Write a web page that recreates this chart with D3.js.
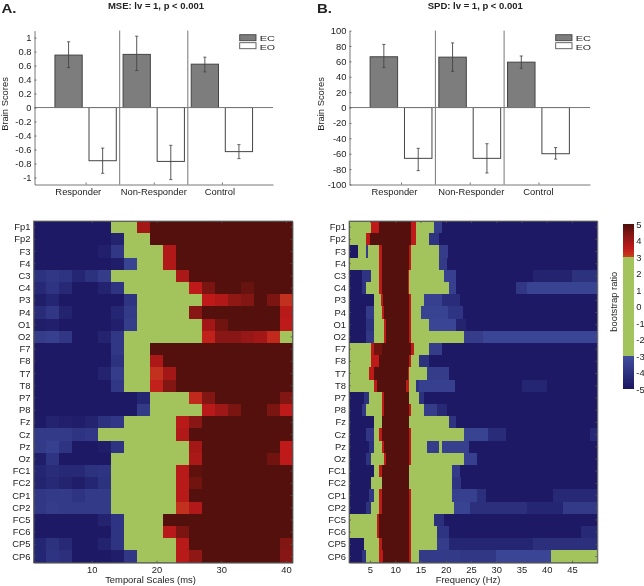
<!DOCTYPE html>
<html><head><meta charset="utf-8">
<script src="https://cdn.jsdelivr.net/npm/d3@7/dist/d3.min.js"></script>
<style>
html,body{margin:0;padding:0;background:#fff}
svg{display:block;filter:blur(0.45px)}
text{font-family:"Liberation Sans",Arial,sans-serif;fill:#222}
</style></head><body><svg id="c" width="644" height="586"></svg>
<script>
// ---------- data ----------
const groups = ["Responder","Non-Responder","Control"];
const mseEC = [0.75,0.76,0.62];
const mseEO = [-0.76,-0.77,-0.63];
const mseECerr = [[0.57,0.94],[0.53,1.02],[0.51,0.72]];
const mseEOerr = [[-0.94,-0.58],[-1.03,-0.54],[-0.73,-0.53]];
const spdEC = [66,65.5,59];
const spdEO = [-66,-66,-60];
const spdECerr = [[52,82],[47,84],[51,67]];
const spdEOerr = [[-82,-53],[-85,-47],[-67,-52]];
const mseYTicks = [1,0.8,0.6,0.4,0.2,0,-0.2,-0.4,-0.6,-0.8,-1];
const spdYTicks = [100,80,60,40,20,0,-20,-40,-60,-80,-100];
const channels = ["Fp1","Fp2","F3","F4","C3","C4","P3","P4","O1","O2","F7","F8","T7","T8","P7","P8","Fz","Cz","Pz","Oz","FC1","FC2","CP1","CP2","FC5","FC6","CP5","CP6"];
const D=-4.85, H=4.9, G=0;
// MSE: 20 columns per channel, each 2 scale units wide
const mseValues = [
[D,D,D,D,D,D,G,G,3.9,H,H,H,H,H,H,H,H,H,H,H],
[D,D,D,D,D,D,-4.5,G,G,H,H,H,H,H,H,H,H,H,H,H],
[D,D,D,D,D,-4.6,-3.8,G,G,G,3.7,H,H,H,H,H,H,H,H,H],
[D,D,D,D,D,D,-4.7,-3.4,G,G,3.7,H,H,H,H,H,H,H,H,H],
[-4,-3.8,-3.9,-4.4,-4,-3.6,G,G,G,G,G,3.8,H,H,H,H,H,H,H,H],
[-4.3,-3.9,-4.3,D,D,-4.5,-3.9,G,G,G,G,G,3.5,4.5,H,H,4.7,H,H,H],
[-4.7,-4.4,D,D,D,D,D,-3.9,G,G,G,G,G,3.5,3.7,4.2,4.4,H,4.5,3.2],
[-4.2,-3.8,-4.5,D,D,D,-4.4,-3.7,G,G,G,G,4.3,H,H,H,H,H,H,3.6],
[-4.7,-4.6,D,D,D,D,-4.6,-3.6,G,G,G,G,G,3.9,4.6,H,H,H,H,3.5],
[-3.6,-3.5,-3.8,D,D,-4.5,-3.8,G,G,G,G,G,G,3.4,4.3,4.3,4.1,3.9,3.3,G],
[D,D,D,D,D,D,-3.8,G,G,H,H,H,H,H,H,H,H,H,H,H],
[D,D,D,D,D,D,-4,G,G,3.8,H,H,H,H,H,H,H,H,H,H],
[D,D,D,D,D,-4.5,-3.6,G,G,3.2,3.9,H,H,H,H,H,H,H,H,H],
[D,D,D,D,D,D,-3.8,G,G,3.4,4.4,H,H,H,H,H,H,H,H,H],
[D,D,D,D,D,D,D,D,-4.4,G,G,G,3.3,4.4,H,H,H,H,H,4.4],
[D,D,D,D,D,D,D,D,-3.7,G,G,G,G,3.6,4,4.5,H,H,4.5,3.5],
[-4.8,-4.5,-4.6,-4.7,-4.5,-4,-3.8,G,G,G,G,3.6,4.3,H,H,H,H,H,H,H],
[-3.7,-3.7,-3.7,-3.9,-3.8,G,G,G,G,G,G,3.7,H,H,H,H,H,H,H,H],
[-3.7,-3.5,-3.9,D,D,-4.7,-3.9,G,G,G,G,G,3.9,H,H,H,H,H,H,3.5],
[-4.7,-3.9,D,D,D,D,G,G,G,G,G,G,3.8,H,H,H,H,H,4.6,3.5],
[-4.4,-4.2,-4.3,-4.3,-4,-3.9,G,G,G,G,G,3.6,4.8,H,H,H,H,H,H,H],
[-4.5,-4.3,-4.5,-4.7,-4.4,-4,G,G,G,G,G,3.6,4.6,H,H,H,H,H,H,H],
[-3.8,-3.7,-3.7,-3.9,-3.7,-3.7,G,G,G,G,G,3.6,H,H,H,H,H,H,H,H],
[-3.8,-3.6,-3.7,-3.7,-3.7,-3.7,G,G,G,G,G,3.2,3.7,H,H,H,H,H,H,H],
[D,D,D,D,D,-4.5,-3.9,G,G,G,H,H,H,H,H,H,H,H,H,H],
[D,D,D,D,D,D,-3.9,G,G,G,3.6,4.5,H,H,H,H,H,H,H,H],
[-4.4,-4,-4.3,D,D,-4.5,-3.9,G,G,G,G,3.6,H,H,H,H,H,H,H,4.4],
[-4.4,-3.9,-4.1,D,D,D,-4.7,-3.8,G,G,G,3.6,4.2,H,H,H,H,H,H,4.3]
];
const R=3.5;
// SPD: per channel, runs of [bootstrap ratio, run end in Hz]
const spdRuns = [
[[G,5.3],[R,6.8],[H,13.2],[R,14.2],[G,17.7],[-3.6,19.2],[D,50]],
[[G,4.2],[R,5.1],[H,13.2],[R,14.2],[G,16.7],[-3.9,18.7],[D,50]],
[[D,2.7],[G,4.2],[-3.6,4.7],[G,6.8],[R,7.3],[H,12.8],[R,13.2],[G,18.7],[-3.6,20.4],[D,50]],
[[G,6.8],[R,7.3],[H,12.8],[R,13.2],[G,18.7],[-3.7,20.2],[D,50]],
[[D,3.4],[-3.9,5.2],[G,6.8],[R,7.3],[H,12.6],[R,12.8],[G,19.7],[-3.5,22.1],[D,37.3],[-4.5,45],[-4,50]],
[[D,3.4],[-4,4.2],[G,6.8],[R,7.3],[H,12.6],[R,12.8],[G,20.7],[-3.5,22.1],[D,34],[-3.8,36],[-3.4,50]],
[[D,5.7],[G,7.2],[R,7.6],[H,12.8],[R,13.2],[G,15.7],[-3.5,19.2],[-4.2,22.8],[D,50]],
[[D,4.3],[-3.7,5.7],[G,7.3],[R,7.8],[H,12.8],[R,13.2],[G,15.2],[-3.4,20.5],[-3.9,23.4],[D,50]],
[[D,4.3],[-4,5.7],[G,7.8],[R,8.2],[H,12.8],[R,13.2],[G,16.7],[-3.3,22.1],[-4.5,24],[D,50]],
[[D,4.2],[-3.8,5.8],[G,7.8],[R,8.2],[H,12.8],[R,13.2],[G,23.6],[-3.6,27.4],[-3.3,50]],
[[G,5.3],[R,5.8],[4.6,7.3],[H,13.2],[R,13.7],[G,16.7],[-3.6,19.2],[D,50]],
[[G,5.3],[R,6.8],[H,12.8],[R,13.2],[G,14.7],[-4,16.7],[D,50]],
[[G,4.8],[R,5.8],[H,12.6],[R,12.8],[G,16.2],[-3.6,20.7],[D,50]],
[[G,5.8],[R,6.3],[H,12.2],[R,12.8],[G,14.2],[-3.9,14.8],[-3.5,21.8],[D,35],[-4.4,40],[D,50]],
[[D,3.8],[-4,4.8],[G,7.3],[R,7.8],[H,12.8],[G,14.8],[-4,15.7],[D,50]],
[[D,3.4],[-3.8,4.2],[G,7.3],[R,7.8],[H,12.8],[R,13.2],[G,15.7],[-3.6,18.2],[-4.3,20.2],[D,50]],
[[D,5.7],[G,7.3],[H,12.8],[G,20.7],[-3.9,22.1],[D,50]],
[[D,4.3],[-3.8,5.7],[G,6.8],[R,7.3],[H,12.8],[R,13.2],[G,23.6],[-3.4,28.4],[-4.2,32],[D,48.5],[-4.3,50]],
[[D,4.9],[-4,5.7],[G,7.3],[R,7.8],[H,12.8],[R,13.2],[G,16.2],[-3.6,18.7],[G,19.2],[-3.5,24.6],[D,50]],
[[D,4.3],[-3.9,5.2],[G,7.8],[R,8.2],[H,12.8],[R,13.2],[G,23.6],[-3.5,26.1],[D,50]],
[[D,5.7],[G,6.8],[R,7.3],[H,12.8],[G,21.3],[-3.7,22.8],[D,50]],
[[D,5.3],[G,7.3],[H,12.8],[G,21.3],[-3.9,23],[D,50]],
[[D,4.8],[-3.8,5.7],[G,6.8],[R,7.3],[H,12.8],[R,13.2],[G,21.3],[-3.5,26.1],[-4.1,28],[D,41.2],[-4.3,50]],
[[D,4.3],[-4,5.2],[G,6.8],[R,7.3],[H,12.8],[R,13.2],[G,21.7],[-3.4,24.8],[-4.1,36],[-4.4,43.2],[-3.7,50]],
[[G,6.3],[R,6.8],[H,12.8],[R,13.2],[G,17.7],[-4.1,19.6],[D,50]],
[[G,6.3],[R,6.8],[H,12.8],[R,13.2],[G,18.2],[-3.9,20.7],[D,46.8],[-4.3,50]],
[[D,3.8],[G,6.8],[R,7.3],[H,12.8],[R,13.2],[G,18.2],[-3.6,20.7],[-4.4,37.3],[-4.1,50]],
[[D,3.4],[-3.9,4.2],[G,6.8],[R,7.6],[H,12.8],[R,13.2],[G,14.7],[-3.7,22.8],[-3.8,30],[-3.3,40.9],[G,50]]
];
const mseXTicks = [10,20,30,40];
const spdXTicks = [5,10,15,20,25,30,35,40,45];
const barTicks = [-5,-4,-3,-2,-1,0,1,2,3,4,5];

// ---------- shared ----------
const svg = d3.select("#c");
const color = d3.scaleLinear()
  .domain([-5,-3,-3,3,3,3.5,4.5,5])
  .range(["#1a1560","#404e9e","#a3c45c","#a3c45c","#c4401f","#bf1a1a","#7a1512","#4b0f0a"])
  .clamp(true);
const FS = 9.4, AX = "#555";
const plain = d => String(d);
function styleAxis(g){
  g.selectAll("text").style("font-size",FS+"px").style("font-family",'"Liberation Sans",Arial,sans-serif').attr("fill","#222");
  g.selectAll("path,line").attr("stroke",AX).attr("stroke-width",0.8);
}
function label(x,y,t,opt={}){
  const s = svg.append("text").attr("x",x).attr("y",y).text(t)
    .attr("text-anchor",opt.anchor||"middle").style("font-size",(opt.size||FS)+"px");
  if(opt.bold) s.style("font-weight","bold");
  if(opt.rot) s.attr("transform",`rotate(-90 ${x} ${y})`);
  if(opt.len) s.attr("textLength",opt.len).attr("lengthAdjust","spacingAndGlyphs");
  return s;
}

// ---------- bar panels ----------
function barPanel(o){
  const x = d3.scaleLinear().domain([0.25,3.75]).range([o.left,o.right]);
  const y = d3.scaleLinear().domain(o.yDomain).range([184.5,30.6]);
  const g = svg.append("g");
  const bw = x(1.4)-x(1);
  const series = [[o.ec,o.ecErr,-0.25,"#7d7d7d"],[o.eo,o.eoErr,0.25,"#ffffff"]];
  series.forEach(([vals,errs,off,fill])=>{
    g.selectAll(null).data(vals).join("rect")
      .attr("x",(d,i)=>x(i+1+off)-bw/2).attr("width",bw)
      .attr("y",d=>Math.min(y(d),y(0))).attr("height",d=>Math.abs(y(d)-y(0)))
      .attr("fill",fill).attr("stroke","#444").attr("stroke-width",1);
    const cap = 1.6;
    errs.forEach((e,i)=>{
      const cx = x(i+1+off);
      g.append("line").attr("x1",cx).attr("x2",cx).attr("y1",y(e[0])).attr("y2",y(e[1])).attr("stroke","#444").attr("stroke-width",0.9);
      e.forEach(v=>g.append("line").attr("x1",cx-cap).attr("x2",cx+cap).attr("y1",y(v)).attr("y2",y(v)).attr("stroke","#444").attr("stroke-width",0.8));
    });
  });
  [1.5,2.5].forEach(v=>g.append("line").attr("x1",x(v)).attr("x2",x(v)).attr("y1",30.6).attr("y2",184.5).attr("stroke","#666").attr("stroke-width",0.9));
  g.append("line").attr("x1",o.left).attr("x2",o.right).attr("y1",y(0)).attr("y2",y(0)).attr("stroke","#777").attr("stroke-width",1);
  g.append("g").attr("transform",`translate(${o.left},0)`)
    .call(d3.axisLeft(y).tickValues(o.yTicks).tickFormat(plain).tickSizeInner(-2).tickSizeOuter(0).tickPadding(3)).call(styleAxis);
  g.append("g").attr("transform","translate(0,184.5)")
    .call(d3.axisBottom(x).tickValues([1,2,3]).tickFormat("").tickSizeInner(-2).tickSizeOuter(0)).call(styleAxis);
  groups.forEach((t,i)=>label(x(i+1)+o.labelShift[i],195.3,t));
  // legend
  const lx = o.legendX;
  g.append("rect").attr("x",lx).attr("y",34.7).attr("width",16.3).attr("height",6).attr("fill","#7d7d7d").attr("stroke","#444").attr("stroke-width",0.9);
  g.append("rect").attr("x",lx).attr("y",42.7).attr("width",16.3).attr("height",6).attr("fill","#fff").attr("stroke","#555").attr("stroke-width",0.9);
  label(lx+20,40.6,"EC",{anchor:"start",size:7.9,len:15.3});
  label(lx+20,49.6,"EO",{anchor:"start",size:7.9,len:15.3});
  label(o.titleX,9,o.title,{bold:true,size:9.5});
  label(o.letterX,12.6,o.letter,{bold:true,anchor:"start",size:13.7,len:15});
  label(o.ylabX,104,"Brain Scores",{rot:true});
}
barPanel({left:34.5,right:273,yDomain:[-1.1,1.1],yTicks:mseYTicks,ec:mseEC,eo:mseEO,ecErr:mseECerr,eoErr:mseEOerr,
  labelShift:[-7.3,0,-2],legendX:239.7,titleX:156,title:"MSE: lv = 1, p < 0.001",letter:"A.",letterX:1.5,ylabX:7.5});
barPanel({left:349.5,right:590,yDomain:[-100,100],yTicks:spdYTicks,ec:spdEC,eo:spdEO,ecErr:spdECerr,eoErr:spdEOerr,
  labelShift:[-6.5,1.5,0],legendX:555.7,titleX:475.3,title:"SPD: lv = 1, p < 0.001",letter:"B.",letterX:317,ylabX:324});

// ---------- heat maps ----------
const hTop=221, hBottom=562.7;
function heatFrame(o){
  const x = d3.scaleLinear().domain(o.xDomain).range([o.left,o.right]);
  const y = d3.scaleBand().domain(channels).range([hTop,hBottom]);
  const g = svg.append("g");
  o.draw(g.append("g").attr("shape-rendering","crispEdges"),x,y);
  g.append("rect").attr("x",o.left).attr("y",hTop).attr("width",o.right-o.left).attr("height",hBottom-hTop).attr("fill","none").attr("stroke",AX).attr("stroke-width",0.7);
  g.append("g").attr("transform",`translate(${o.left},0)`).call(d3.axisLeft(y).tickSizeInner(-2).tickSizeOuter(0).tickPadding(3)).call(styleAxis);
  g.append("g").attr("transform",`translate(${o.right},0)`).call(d3.axisRight(y).tickFormat("").tickSizeInner(-2).tickSizeOuter(0)).call(styleAxis);
  g.append("g").attr("transform",`translate(0,${hBottom})`).call(d3.axisBottom(x).tickValues(o.ticks).tickFormat(plain).tickSizeInner(-2).tickSizeOuter(0).tickPadding(4)).call(styleAxis);
  g.append("g").attr("transform",`translate(0,${hTop})`).call(d3.axisTop(x).tickValues(o.ticks).tickFormat("").tickSizeInner(-2).tickSizeOuter(0)).call(styleAxis);
  label(o.labelX,583,o.xlabel);
}
heatFrame({left:33.5,right:292.5,xDomain:[1,41],ticks:mseXTicks,labelX:150.5,xlabel:"Temporal Scales (ms)",
  draw(g,x,y){
    channels.forEach((ch,r)=>{
      g.selectAll(null).data(mseValues[r]).join("rect")
        .attr("x",(d,i)=>x(1+2*i)).attr("width",x(3)-x(1))
        .attr("y",y(ch)).attr("height",y.bandwidth())
        .attr("fill",d=>color(d));
    });
  }});
heatFrame({left:349,right:597.3,xDomain:[0.85,50],ticks:spdXTicks,labelX:468,xlabel:"Frequency (Hz)",
  draw(g,x,y){
    channels.forEach((ch,r)=>{
      let start = x.domain()[0];
      spdRuns[r].forEach(([v,end])=>{
        g.append("rect").attr("x",x(start)).attr("width",x(end)-x(start))
          .attr("y",y(ch)).attr("height",y.bandwidth()).attr("fill",color(v));
        start = end;
      });
    });
  }});

// ---------- colour bar ----------
const cby = d3.scaleLinear().domain([-5,5]).range([389.3,224]);
const cbg = svg.append("g").attr("shape-rendering","crispEdges");
d3.range(0,100).forEach(i=>{
  const lo = -5+i*0.1, hi = lo+0.1;
  cbg.append("rect").attr("x",622.7).attr("width",11.6).attr("y",cby(hi)).attr("height",cby(lo)-cby(hi)).attr("fill",color(lo+0.05));
});
svg.append("g").attr("transform","translate(634.3,0)")
  .call(d3.axisRight(cby).tickValues(barTicks).tickFormat(plain).tickSize(0).tickPadding(2)).call(styleAxis)
  .call(a=>a.select("path").remove());
label(617,301.7,"bootstrap ratio",{rot:true});
</script></body></html>
